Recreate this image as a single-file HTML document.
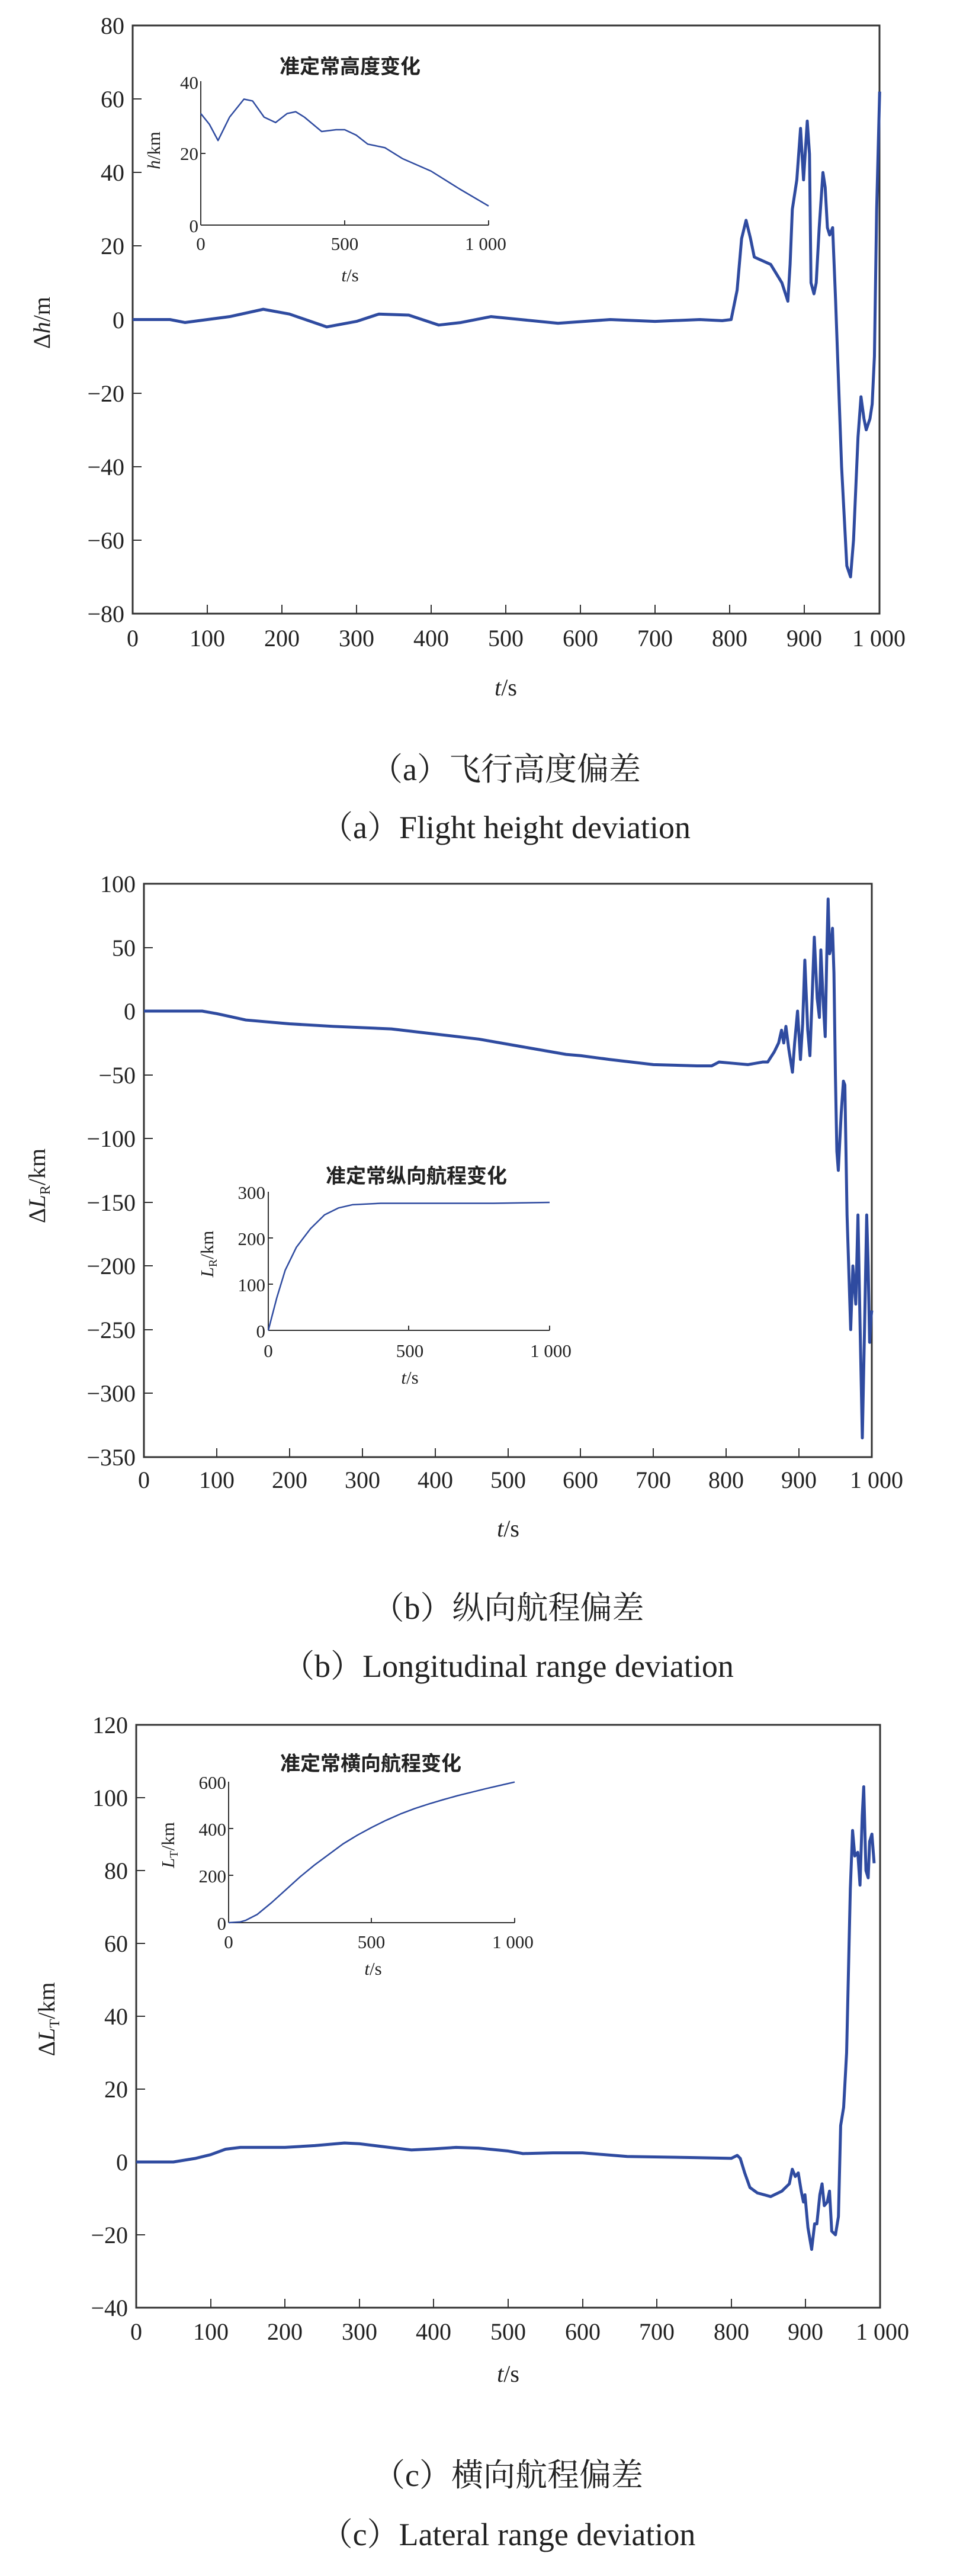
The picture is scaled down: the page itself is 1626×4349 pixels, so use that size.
<!DOCTYPE html>
<html><head><meta charset="utf-8"><style>
html,body{margin:0;padding:0;background:#fff}
svg{display:block}
text{font-family:"Liberation Serif","Noto Serif CJK SC",serif;fill:#222}
.t{font-size:40px}
.s{font-size:31px}
.cap{font-size:54px}
.ti{font-size:34px;font-weight:bold;font-family:"Liberation Serif","Noto Sans CJK SC",sans-serif}
.ax{fill:none;stroke:#333;stroke-width:3}
.ln{fill:none;stroke:#2f4ba0;stroke-width:5;stroke-linejoin:round;vector-effect:non-scaling-stroke}
.li{fill:none;stroke:#2f4ba0;stroke-width:2.5;stroke-linejoin:round;vector-effect:non-scaling-stroke}
.tk{stroke:#333;stroke-width:2}
</style></head><body>
<svg width="1626" height="4349" viewBox="0 0 1626 4349" xmlns="http://www.w3.org/2000/svg">
<!-- ===== Chart a ===== -->
<rect x="224" y="43" width="1261" height="993" class="ax"/>
<g class="tk">
<line x1="350" y1="1036" x2="350" y2="1021"/><line x1="476" y1="1036" x2="476" y2="1021"/><line x1="602" y1="1036" x2="602" y2="1021"/><line x1="728" y1="1036" x2="728" y2="1021"/><line x1="854" y1="1036" x2="854" y2="1021"/><line x1="980" y1="1036" x2="980" y2="1021"/><line x1="1106" y1="1036" x2="1106" y2="1021"/><line x1="1232" y1="1036" x2="1232" y2="1021"/><line x1="1358" y1="1036" x2="1358" y2="1021"/>
<line x1="224" y1="167" x2="239" y2="167"/><line x1="224" y1="291" x2="239" y2="291"/><line x1="224" y1="415" x2="239" y2="415"/><line x1="224" y1="540" x2="239" y2="540"/><line x1="224" y1="664" x2="239" y2="664"/><line x1="224" y1="788" x2="239" y2="788"/><line x1="224" y1="912" x2="239" y2="912"/>
</g>
<g class="t" text-anchor="end">
<text x="210" y="57">80</text><text x="210" y="181">60</text><text x="210" y="305">40</text><text x="210" y="429">20</text><text x="210" y="554">0</text><text x="210" y="678">−20</text><text x="210" y="802">−40</text><text x="210" y="926">−60</text><text x="210" y="1050">−80</text>
</g>
<g class="t" text-anchor="middle">
<text x="224" y="1091">0</text><text x="350" y="1091">100</text><text x="476" y="1091">200</text><text x="602" y="1091">300</text><text x="728" y="1091">400</text><text x="854" y="1091">500</text><text x="980" y="1091">600</text><text x="1106" y="1091">700</text><text x="1232" y="1091">800</text><text x="1358" y="1091">900</text><text x="1484" y="1091">1 000</text>
<text x="854" y="1174"><tspan font-style="italic">t</tspan>/s</text>
</g>
<text class="t" transform="translate(84,545) rotate(-90)" text-anchor="middle">Δ<tspan font-style="italic">h</tspan>/m</text>
<g transform="matrix(1.26 0 0 -6.206 224 539.5)">
<polyline class="ln" points="0,0 50,0 70,-0.8 100,0 130,0.8 175,2.8 210,1.5 260,-2 300,-0.5 330,1.5 370,1.2 410,-1.5 440,-0.8 480,0.8 520,0 570,-1 640,0 700,-0.5 760,0 790,-0.3 802,0 810,8 816,22 822,27 828,22 833,17 855,15 870,10 878,5 881,15 884,30 890,38 895,52 899,38 904,54 907,45 909,10 913,7 916,10 920,25 925,40 928,36 931,25 934,23 938,25 942,5 950,-40 957,-67 962,-70 966,-60 972,-32 976,-21 980,-27 983,-30 988,-27 991,-23 994,-10 997,30 1001,62"/>
</g>
<!-- inset a -->
<text class="ti" x="591" y="124" text-anchor="middle">准定常高度变化</text>
<line x1="339" y1="137" x2="339" y2="380" class="ax" style="stroke-width:2"/>
<line x1="339" y1="380" x2="825" y2="380" class="ax" style="stroke-width:2"/>
<g class="tk"><line x1="339" y1="259" x2="347" y2="259"/><line x1="582" y1="380" x2="582" y2="372"/><line x1="825" y1="380" x2="825" y2="372"/></g>
<g class="s" text-anchor="end"><text x="335" y="150">40</text><text x="335" y="270">20</text><text x="335" y="392">0</text></g>
<g class="s" text-anchor="middle"><text x="339" y="422">0</text><text x="582" y="422">500</text><text x="820" y="422">1 000</text>
<text x="591" y="475"><tspan font-style="italic">t</tspan>/s</text></g>
<text class="s" transform="translate(270,254) rotate(-90)" text-anchor="middle"><tspan font-style="italic">h</tspan>/km</text>
<g transform="matrix(0.486 0 0 -6.075 339 380)">
<polyline class="li" points="0,31 30,28 60,23.5 100,30 150,35 180,34.5 220,30 260,28.5 300,31 330,31.5 360,30 420,26 470,26.5 500,26.5 540,25 580,22.5 640,21.5 700,18.5 800,15 900,10 1000,5.3"/>
</g>
<text class="cap" x="854" y="1317" text-anchor="middle">（a）飞行高度偏差</text>
<text class="cap" x="854" y="1415" text-anchor="middle">（a）Flight height deviation</text>

<!-- ===== Chart b ===== -->
<rect x="243" y="1492" width="1229" height="968" class="ax"/>
<g class="tk">
<line x1="366" y1="2460" x2="366" y2="2445"/><line x1="489" y1="2460" x2="489" y2="2445"/><line x1="612" y1="2460" x2="612" y2="2445"/><line x1="735" y1="2460" x2="735" y2="2445"/><line x1="858" y1="2460" x2="858" y2="2445"/><line x1="980" y1="2460" x2="980" y2="2445"/><line x1="1103" y1="2460" x2="1103" y2="2445"/><line x1="1226" y1="2460" x2="1226" y2="2445"/><line x1="1349" y1="2460" x2="1349" y2="2445"/>
<line x1="243" y1="1600" x2="258" y2="1600"/><line x1="243" y1="1707" x2="258" y2="1707"/><line x1="243" y1="1815" x2="258" y2="1815"/><line x1="243" y1="1922" x2="258" y2="1922"/><line x1="243" y1="2030" x2="258" y2="2030"/><line x1="243" y1="2137" x2="258" y2="2137"/><line x1="243" y1="2245" x2="258" y2="2245"/><line x1="243" y1="2352" x2="258" y2="2352"/>
</g>
<g class="t" text-anchor="end">
<text x="229" y="1506">100</text><text x="229" y="1614">50</text><text x="229" y="1721">0</text><text x="229" y="1829">−50</text><text x="229" y="1936">−100</text><text x="229" y="2044">−150</text><text x="229" y="2151">−200</text><text x="229" y="2259">−250</text><text x="229" y="2366">−300</text><text x="229" y="2474">−350</text>
</g>
<g class="t" text-anchor="middle">
<text x="243" y="2512">0</text><text x="366" y="2512">100</text><text x="489" y="2512">200</text><text x="612" y="2512">300</text><text x="735" y="2512">400</text><text x="858" y="2512">500</text><text x="980" y="2512">600</text><text x="1103" y="2512">700</text><text x="1226" y="2512">800</text><text x="1349" y="2512">900</text><text x="1480" y="2512">1 000</text>
<text x="858" y="2594"><tspan font-style="italic">t</tspan>/s</text>
</g>
<text class="t" transform="translate(76,2002) rotate(-90)" text-anchor="middle">Δ<tspan font-style="italic">L</tspan><tspan font-size="24" dy="8">R</tspan><tspan dy="-8">/km</tspan></text>
<g transform="matrix(1.229 0 0 -2.151 243 1707)">
<polyline class="ln" points="0,0 80,0 100,-2 140,-7 200,-10 260,-12 340,-14 400,-18 460,-22 520,-28 580,-34 600,-35 640,-38 700,-42 760,-43 780,-43 790,-40 810,-41 830,-42 850,-40 857,-40 866,-32 872,-25 876,-15 879,-25 882,-12 886,-30 891,-48 894,-25 898,0 902,-38 905,-10 908,40 912,-15 915,-35 918,10 921,58 925,10 928,-5 930,48 933,10 936,-20 938,40 940,88 942,45 944,50 946,65 948,30 950,-50 952,-110 954,-125 958,-80 961,-55 963,-58 966,-160 971,-250 974,-200 976,-215 978,-230 981,-160 984,-250 987,-335 990,-250 993,-160 995,-200 997,-260 999,-240 1000,-235"/>
</g>
<!-- inset b -->
<text class="ti" x="703" y="1997" text-anchor="middle">准定常纵向航程变化</text>
<line x1="453" y1="2012" x2="453" y2="2246" class="ax" style="stroke-width:2"/>
<line x1="453" y1="2246" x2="928" y2="2246" class="ax" style="stroke-width:2"/>
<g class="tk"><line x1="453" y1="2090" x2="461" y2="2090"/><line x1="453" y1="2168" x2="461" y2="2168"/><line x1="690" y1="2246" x2="690" y2="2238"/><line x1="928" y1="2246" x2="928" y2="2238"/></g>
<g class="s" text-anchor="end"><text x="448" y="2024">300</text><text x="448" y="2102">200</text><text x="448" y="2180">100</text><text x="448" y="2258">0</text></g>
<g class="s" text-anchor="middle"><text x="453" y="2291">0</text><text x="692" y="2291">500</text><text x="930" y="2291">1 000</text>
<text x="692" y="2336"><tspan font-style="italic">t</tspan>/s</text></g>
<text class="s" transform="translate(360,2117) rotate(-90)" text-anchor="middle"><tspan font-style="italic">L</tspan><tspan font-size="20" dy="6">R</tspan><tspan dy="-6">/km</tspan></text>
<g transform="matrix(0.475 0 0 -0.78 453 2246)">
<polyline class="li" points="0,0 30,70 60,130 100,180 150,220 200,250 250,265 300,272 400,275 600,275 800,275 900,276 1000,277"/>
</g>
<text class="cap" x="858" y="2733" text-anchor="middle">（b）纵向航程偏差</text>
<text class="cap" x="858" y="2831" text-anchor="middle">（b）Longitudinal range deviation</text>

<!-- ===== Chart c ===== -->
<rect x="230" y="2912" width="1256" height="984" class="ax"/>
<g class="tk">
<line x1="356" y1="3896" x2="356" y2="3881"/><line x1="481" y1="3896" x2="481" y2="3881"/><line x1="607" y1="3896" x2="607" y2="3881"/><line x1="732" y1="3896" x2="732" y2="3881"/><line x1="858" y1="3896" x2="858" y2="3881"/><line x1="984" y1="3896" x2="984" y2="3881"/><line x1="1109" y1="3896" x2="1109" y2="3881"/><line x1="1235" y1="3896" x2="1235" y2="3881"/><line x1="1360" y1="3896" x2="1360" y2="3881"/>
<line x1="230" y1="3035" x2="245" y2="3035"/><line x1="230" y1="3158" x2="245" y2="3158"/><line x1="230" y1="3281" x2="245" y2="3281"/><line x1="230" y1="3404" x2="245" y2="3404"/><line x1="230" y1="3527" x2="245" y2="3527"/><line x1="230" y1="3650" x2="245" y2="3650"/><line x1="230" y1="3773" x2="245" y2="3773"/>
</g>
<g class="t" text-anchor="end">
<text x="216" y="2926">120</text><text x="216" y="3049">100</text><text x="216" y="3172">80</text><text x="216" y="3295">60</text><text x="216" y="3418">40</text><text x="216" y="3541">20</text><text x="216" y="3664">0</text><text x="216" y="3787">−20</text><text x="216" y="3910">−40</text>
</g>
<g class="t" text-anchor="middle">
<text x="230" y="3950">0</text><text x="356" y="3950">100</text><text x="481" y="3950">200</text><text x="607" y="3950">300</text><text x="732" y="3950">400</text><text x="858" y="3950">500</text><text x="984" y="3950">600</text><text x="1109" y="3950">700</text><text x="1235" y="3950">800</text><text x="1360" y="3950">900</text><text x="1490" y="3950">1 000</text>
<text x="858" y="4021"><tspan font-style="italic">t</tspan>/s</text>
</g>
<text class="t" transform="translate(92,3409) rotate(-90)" text-anchor="middle">Δ<tspan font-style="italic">L</tspan><tspan font-size="24" dy="8">T</tspan><tspan dy="-8">/km</tspan></text>
<g transform="matrix(1.256 0 0 -6.15 230 3650)">
<polyline class="ln" points="0,0 50,0 80,1 100,2 120,3.5 140,4 200,4 240,4.5 280,5.2 300,5 340,4 370,3.3 400,3.6 430,4 460,3.8 500,3 520,2.3 560,2.5 600,2.5 660,1.5 750,1.2 800,1 808,1.8 812,1 818,-3 825,-7 835,-8.5 853,-9.5 868,-8 878,-6 882,-2 886,-4 890,-3 894,-8 897,-11 899,-9 903,-18 908,-24 912,-17 915,-17 919,-9 922,-6 925,-12 929,-11 932,-8 935,-19 940,-20 944,-15 947,10 951,15 955,30 960,75 963,91 966,84 970,85 973,76 976,95 978,103 981,80 984,78 986,88 989,90 992,82"/>
</g>
<!-- inset c -->
<text class="ti" x="626" y="2989" text-anchor="middle">准定常横向航程变化</text>
<line x1="386" y1="3008" x2="386" y2="3246" class="ax" style="stroke-width:2"/>
<line x1="386" y1="3246" x2="869" y2="3246" class="ax" style="stroke-width:2"/>
<g class="tk"><line x1="386" y1="3087" x2="394" y2="3087"/><line x1="386" y1="3166" x2="394" y2="3166"/><line x1="627" y1="3246" x2="627" y2="3238"/><line x1="869" y1="3246" x2="869" y2="3238"/></g>
<g class="s" text-anchor="end"><text x="382" y="3020">600</text><text x="382" y="3099">400</text><text x="382" y="3178">200</text><text x="382" y="3258">0</text></g>
<g class="s" text-anchor="middle"><text x="386" y="3289">0</text><text x="627" y="3289">500</text><text x="866" y="3289">1 000</text>
<text x="630" y="3334"><tspan font-style="italic">t</tspan>/s</text></g>
<text class="s" transform="translate(294,3115) rotate(-90)" text-anchor="middle"><tspan font-style="italic">L</tspan><tspan font-size="20" dy="6">T</tspan><tspan dy="-6">/km</tspan></text>
<g transform="matrix(0.483 0 0 -0.397 386 3246)">
<polyline class="li" points="0,0 40,3 60,10 100,35 150,85 200,140 250,195 300,245 350,290 400,335 450,372 500,405 550,435 600,462 650,485 700,505 750,523 800,540 850,555 900,570 950,584 1000,598"/>
</g>
<text class="cap" x="858" y="4197" text-anchor="middle">（c）横向航程偏差</text>
<text class="cap" x="858" y="4297" text-anchor="middle">（c）Lateral range deviation</text>
</svg>
</body></html>
